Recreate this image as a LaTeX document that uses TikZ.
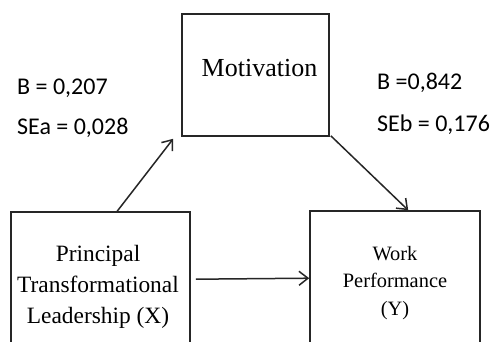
\documentclass[tikz,border=0pt]{standalone}
\usepackage{fontspec}
\setmainfont{Liberation Serif}
\newfontfamily\lblfont{Carlito}
\usetikzlibrary{arrows.meta,calc}
\begin{document}
\begin{tikzpicture}[x=1pt,y=-1pt,
  boxstyle/.style={draw=black!85,line width=1.6pt,rectangle,inner sep=0pt},
  arr/.style={draw=black!85,line width=1.5pt,-{Straight Barb[length=9pt,width=14pt,line width=1.5pt]}},
  lbl/.style={font=\lblfont\fontsize{24}{28}\selectfont,anchor=base west,inner sep=0pt},
  btext/.style={align=center,inner sep=0pt}]
\useasboundingbox[fill=white] (0,0) rectangle (493,342);
% boxes
\node[boxstyle,minimum width=147pt,minimum height=122pt] (M) at (255.5,75) {};
\node[boxstyle,minimum width=179pt,minimum height=140pt] (X) at (100.5,282) {};
\node[boxstyle,minimum width=170pt,minimum height=140pt] (Y) at (395,281) {};
% texts
\node[btext,font=\fontsize{26}{30}\selectfont,anchor=base] (Mt) at (259.5,77) {Motivation};
\node[btext,font=\fontsize{23.4}{31}\selectfont] (Xt) at (98,287) {Principal\\Transformational\\Leadership (X)};
\node[btext,font=\fontsize{20.4}{27.5}\selectfont] (Yt) at (395,283) {Work\\Performance\\(Y)};
% labels
\node[lbl] (L1) at (17,95) {B = 0,207};
\node[lbl] (L2) at (17,135) {SEa = 0,028};
\node[lbl] (L3) at (377,90) {B =0,842};
\node[lbl] (L4) at (377,132) {SEb = 0,176};
% arrows
\coordinate (Xa) at ($(X.north west)+(107,0)$);
\coordinate (Ma) at ($(M.south west)+(-8,2)$);
\draw[arr] (Xa) -- (Ma);
\coordinate (Mb) at ($(M.south east)+(1,-1)$);
\coordinate (Yb) at ($(Y.north west)+(99,0)$);
\draw[arr] (Mb) -- (Yb);
\coordinate (Xc) at ($(X.north east)+(5,68)$);
\coordinate (Yc) at ($(Y.north west)+(0,68)$);
\draw[arr] (Xc) -- (Yc);
\end{tikzpicture}
\end{document}
